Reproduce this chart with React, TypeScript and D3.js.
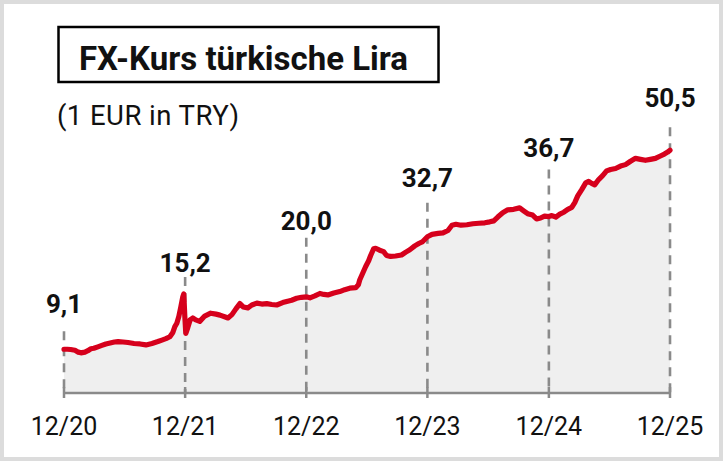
import React from 'react';
import * as d3 from 'd3';

const dates: string[] = [
  '2020-12-31','2021-01-10','2021-01-20','2021-02-02','2021-02-12','2021-02-20','2021-03-04','2021-03-13','2021-03-22','2021-03-31',
  '2021-04-12','2021-04-24','2021-05-06','2021-05-19','2021-06-01','2021-06-12','2021-06-27','2021-07-12','2021-07-30','2021-08-17',
  '2021-09-04','2021-09-22','2021-10-10','2021-10-22','2021-11-03','2021-11-15','2021-11-24','2021-11-30','2021-12-06','2021-12-12',
  '2021-12-18','2021-12-24','2021-12-27','2021-12-30','2022-01-02','2022-01-08','2022-01-15','2022-01-23','2022-02-01','2022-02-13',
  '2022-02-28','2022-03-18','2022-04-03','2022-04-15','2022-05-01','2022-05-09','2022-05-21','2022-06-02','2022-06-14','2022-06-24',
  '2022-07-08','2022-07-20','2022-08-04','2022-08-19','2022-09-03','2022-09-18','2022-10-03','2022-10-21','2022-11-05','2022-11-17',
  '2022-12-02','2022-12-17','2022-12-31','2023-01-11','2023-01-26','2023-02-10','2023-02-22','2023-03-06','2023-03-24','2023-04-11',
  '2023-04-26','2023-05-11','2023-05-29','2023-06-06','2023-06-10','2023-06-19','2023-06-28','2023-07-07','2023-07-13','2023-07-22',
  '2023-07-28','2023-08-09','2023-08-21','2023-08-30','2023-09-11','2023-09-26','2023-10-14','2023-10-27','2023-11-08','2023-11-23',
  '2023-12-05','2023-12-17','2023-12-31','2024-01-14','2024-02-01','2024-02-16','2024-03-02','2024-03-14','2024-03-26','2024-04-10',
  '2024-04-28','2024-05-16','2024-06-03','2024-06-21','2024-07-06','2024-07-18','2024-07-30','2024-08-14','2024-08-29','2024-09-16',
  '2024-10-04','2024-10-16','2024-10-28','2024-11-12','2024-11-24','2024-12-06','2024-12-18','2024-12-31','2025-01-09','2025-01-21',
  '2025-02-02','2025-02-14','2025-02-26','2025-03-10','2025-03-19','2025-03-28','2025-04-09','2025-04-21','2025-04-30','2025-05-09',
  '2025-05-18','2025-05-30','2025-06-11','2025-06-23','2025-07-05','2025-07-20','2025-08-04','2025-08-19','2025-09-03','2025-09-18',
  '2025-10-03','2025-10-18','2025-11-02','2025-11-17','2025-12-02','2025-12-14','2025-12-24','2025-12-31',
];

const values: number[] = [
  9.1, 9.1, 9.05, 8.9, 8.5, 8.35, 8.5, 8.8, 9.2, 9.3,
  9.6, 9.9, 10.2, 10.4, 10.6, 10.7, 10.6, 10.5, 10.3, 10.2,
  10.0, 10.3, 10.7, 11.0, 11.3, 11.7, 12.6, 13.8, 14.5, 15.9,
  17.9, 20.0, 20.6, 16.0, 12.4, 13.6, 15.2, 15.6, 15.2, 14.9,
  16.0, 16.6, 16.4, 16.2, 15.8, 15.6, 16.3, 17.5, 18.6, 17.9,
  17.7, 18.3, 18.7, 18.5, 18.6, 18.4, 18.3, 18.8, 19.1, 19.3,
  19.7, 19.9, 20.0, 19.8, 20.2, 20.7, 20.5, 20.4, 20.8, 21.1,
  21.5, 21.8, 21.9, 22.5, 23.5, 24.9, 26.3, 27.5, 28.6, 30.0,
  30.1, 29.7, 29.4, 28.6, 28.4, 28.5, 28.7, 29.3, 29.8, 30.6,
  31.1, 31.5, 32.5, 33.0, 33.2, 33.3, 33.8, 34.9, 35.1, 34.9,
  35.0, 35.2, 35.3, 35.4, 35.6, 35.8, 36.6, 37.5, 38.1, 38.2,
  38.5, 37.9, 37.3, 37.0, 36.2, 36.4, 36.8, 36.7, 36.9, 36.6,
  37.2, 37.6, 38.2, 38.6, 39.6, 41.0, 42.3, 43.7, 44.0, 43.6,
  43.3, 44.4, 45.2, 46.2, 46.5, 46.7, 47.2, 47.5, 48.2, 48.8,
  48.6, 48.4, 48.6, 48.8, 49.3, 49.7, 50.1, 50.5,
];

const tickDates: string[] = ['2020-12-31', '2021-12-31', '2022-12-31', '2023-12-31', '2024-12-31', '2025-12-31'];
const tickLabels: string[] = ['12/20', '12/21', '12/22', '12/23', '12/24', '12/25'];
const labelValues: number[] = [9.1, 15.2, 20.0, 32.7, 36.7, 50.5];
const labelTexts: string[] = ['9,1', '15,2', '20,0', '32,7', '36,7', '50,5'];

// layout (annotation offsets above the value, in px)
const labelOffsets = [36, 48, 67, 49, 60, 43];
const dashGaps = [18, 5, 8, 16, 13, 20];

const W = 723;
const H = 461;
const FONT = 'Roboto, "Liberation Sans", Arial, sans-serif';

export default function App() {
  const parse = d3.timeParse('%Y-%m-%d');
  const data = dates.map((d, i) => ({ date: parse(d) as Date, value: values[i] }));
  const ticks = tickDates.map((d) => parse(d) as Date);

  const x = d3.scaleTime().domain([ticks[0], ticks[ticks.length - 1]]).range([64, 670]);
  const y = d3.scaleLinear().domain([0, 50.5]).range([393, 150.2]);

  const line = d3.line<{ date: Date; value: number }>()
    .x((d) => x(d.date))
    .y((d) => y(d.value));
  const area = d3.area<{ date: Date; value: number }>()
    .x((d) => x(d.date))
    .y0(y(0))
    .y1((d) => y(d.value));

  const baseY = y(0);

  return (
    <svg width={W} height={H} style={{ position: 'absolute', left: 0, top: 0, background: '#fff' }}>
      <rect x={2} y={2} width={W - 4} height={H - 4} fill="#fff" stroke="#dcdcdc" strokeWidth={4} />

      <rect x={58.5} y={27} width={380} height={55} fill="none" stroke="#000" strokeWidth={2.5} />
      <text x={79} y={70} fontFamily={FONT} fontWeight={700} fontSize={33} fill="#111">FX-Kurs türkische Lira</text>
      <text x={57} y={125} fontFamily={FONT} fontSize={27.5} fill="#111" textLength={182} lengthAdjust="spacing">(1 EUR in TRY)</text>

      <path d={area(data) || ''} fill="#efefef" />

      {ticks.map((t, i) => {
        const ly = y(labelValues[i]) - labelOffsets[i];
        return (
          <g key={i}>
            <line x1={x(t)} x2={x(t)} y1={ly + dashGaps[i]} y2={baseY} stroke="#8a8a8a" strokeWidth={2.6} strokeDasharray="9,7" />
            <text x={x(t)} y={ly} textAnchor="middle" fontFamily={FONT} fontWeight={700} fontSize={26} fill="#111">{labelTexts[i]}</text>
          </g>
        );
      })}

      <line x1={x(ticks[0])} x2={x(ticks[ticks.length - 1])} y1={baseY} y2={baseY} stroke="#8a8a8a" strokeWidth={2.5} />
      {ticks.map((t, i) => (
        <g key={'t' + i}>
          <line x1={x(t)} x2={x(t)} y1={baseY - 6} y2={baseY + 5} stroke="#8a8a8a" strokeWidth={2.5} />
          <text x={x(t)} y={435} textAnchor="middle" fontFamily={FONT} fontSize={25} fill="#111">{tickLabels[i]}</text>
        </g>
      ))}

      <path d={line(data) || ''} fill="none" stroke="#d6001c" strokeWidth={5.2} strokeLinejoin="round" strokeLinecap="round" />
    </svg>
  );
}
